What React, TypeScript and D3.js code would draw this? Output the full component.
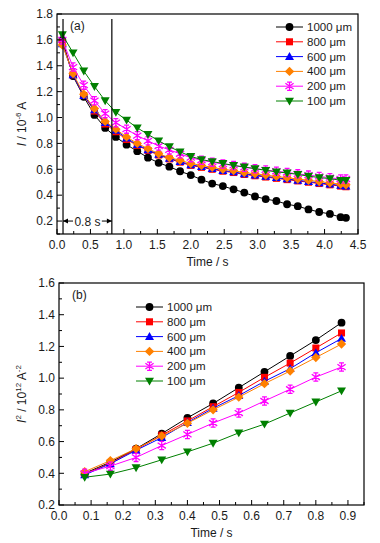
import React from "react";
import * as d3 from "d3";

// ---------- Data ----------
const seriesNames = ["1000 μm", "800 μm", "600 μm", "400 μm", "200 μm", "100 μm"];
const seriesColors = ["#000000", "#FF0000", "#0000FF", "#FF8000", "#FF00FF", "#008000"];
const seriesShapes = ["circle", "square", "triangle", "diamond", "asterisk", "triangleDown"];

const timeA = [0.08, 0.24, 0.40, 0.56, 0.72, 0.88, 1.04, 1.20, 1.36, 1.52, 1.68, 1.84, 2.00, 2.16,
  2.32, 2.48, 2.64, 2.80, 2.96, 3.12, 3.28, 3.44, 3.60, 3.76, 3.92, 4.08, 4.24, 4.32];
const currentA1000 = [1.60, 1.32, 1.16, 1.02, 0.92, 0.85, 0.79, 0.74, 0.69, 0.65, 0.62, 0.585, 0.555, 0.52,
  0.49, 0.47, 0.445, 0.42, 0.39, 0.37, 0.355, 0.33, 0.315, 0.29, 0.27, 0.255, 0.23, 0.225];
const currentA800 = [1.58, 1.33, 1.17, 1.05, 0.95, 0.89, 0.83, 0.785, 0.745, 0.71, 0.68, 0.655, 0.63, 0.615,
  0.60, 0.585, 0.575, 0.56, 0.55, 0.54, 0.53, 0.52, 0.51, 0.50, 0.49, 0.48, 0.47, 0.465];
const currentA600 = [1.57, 1.33, 1.17, 1.06, 0.96, 0.90, 0.84, 0.79, 0.75, 0.715, 0.685, 0.66, 0.635, 0.62,
  0.605, 0.59, 0.58, 0.565, 0.555, 0.545, 0.535, 0.525, 0.515, 0.505, 0.495, 0.485, 0.475, 0.47];
const currentA400 = [1.56, 1.34, 1.18, 1.07, 0.97, 0.91, 0.85, 0.80, 0.76, 0.72, 0.69, 0.67, 0.645, 0.63,
  0.615, 0.60, 0.59, 0.575, 0.565, 0.555, 0.545, 0.535, 0.525, 0.515, 0.505, 0.495, 0.485, 0.48];
const currentA200 = [1.60, 1.39, 1.25, 1.13, 1.03, 0.96, 0.91, 0.86, 0.82, 0.78, 0.75, 0.72, 0.69, 0.67,
  0.655, 0.64, 0.63, 0.615, 0.605, 0.595, 0.585, 0.575, 0.565, 0.555, 0.545, 0.535, 0.525, 0.525];
const currentA100 = [1.64, 1.50, 1.36, 1.24, 1.13, 1.04, 0.98, 0.92, 0.87, 0.82, 0.775, 0.735, 0.70, 0.675,
  0.66, 0.645, 0.63, 0.618, 0.605, 0.592, 0.58, 0.572, 0.56, 0.547, 0.536, 0.528, 0.515, 0.515];
const seriesA = [currentA1000, currentA800, currentA600, currentA400, currentA200, currentA100];

const timeB = [0.08, 0.16, 0.24, 0.32, 0.40, 0.48, 0.56, 0.64, 0.72, 0.80, 0.88];
const invB1000 = [0.40, 0.47, 0.555, 0.65, 0.75, 0.84, 0.94, 1.04, 1.14, 1.24, 1.35];
const invB800 = [0.395, 0.465, 0.55, 0.64, 0.73, 0.82, 0.91, 1.005, 1.095, 1.19, 1.285];
const invB600 = [0.39, 0.46, 0.545, 0.625, 0.72, 0.81, 0.89, 0.98, 1.06, 1.16, 1.25];
const invB400 = [0.41, 0.48, 0.555, 0.635, 0.715, 0.80, 0.88, 0.965, 1.045, 1.13, 1.215];
const invB200 = [0.40, 0.445, 0.50, 0.575, 0.645, 0.717, 0.78, 0.856, 0.93, 1.007, 1.07];
const invB100 = [0.375, 0.395, 0.435, 0.485, 0.535, 0.59, 0.655, 0.71, 0.78, 0.85, 0.92];
const seriesB = [invB1000, invB800, invB600, invB400, invB200, invB100];

const ticksAX = [0, 0.5, 1.0, 1.5, 2.0, 2.5, 3.0, 3.5, 4.0, 4.5];
const ticksAY = [0.2, 0.4, 0.6, 0.8, 1.0, 1.2, 1.4, 1.6, 1.8];
const ticksBX = [0, 0.1, 0.2, 0.3, 0.4, 0.5, 0.6, 0.7, 0.8, 0.9];
const ticksBY = [0.2, 0.4, 0.6, 0.8, 1.0, 1.2, 1.4, 1.6];
const markerLinesA = [0.09, 0.82];

const FONT = "'Liberation Sans', Arial, sans-serif";

function Marker({ shape, x, y, color, r = 3.9 }: any) {
  if (shape === "circle") return <circle cx={x} cy={y} r={r} fill={color} />;
  if (shape === "square") return <rect x={x - r * 0.9} y={y - r * 0.9} width={r * 1.8} height={r * 1.8} fill={color} />;
  if (shape === "triangle") {
    const s = r * 1.15;
    return <path d={`M${x},${y - s}L${x + s},${y + s * 0.75}L${x - s},${y + s * 0.75}Z`} fill={color} />;
  }
  if (shape === "triangleDown") {
    const s = r * 1.15;
    return <path d={`M${x},${y + s}L${x + s},${y - s * 0.75}L${x - s},${y - s * 0.75}Z`} fill={color} />;
  }
  if (shape === "diamond") {
    const s = r * 1.2;
    return <path d={`M${x},${y - s}L${x + s},${y}L${x},${y + s}L${x - s},${y}Z`} fill={color} />;
  }
  // asterisk
  const s = r * 1.05;
  return (
    <path
      d={`M${x},${y - s}L${x},${y + s}M${x - s},${y - s * 0.7}L${x + s},${y + s * 0.7}M${x - s},${y + s * 0.7}L${x + s},${y - s * 0.7}M${x - s * 0.6},${y - s}L${x + s * 0.6},${y - s}M${x - s * 0.6},${y + s}L${x + s * 0.6},${y + s}`}
      stroke={color}
      strokeWidth={1.3}
      fill="none"
    />
  );
}

function Panel({ left, top, right, bottom, xDomain, yDomain, xTicks, yTicks, xMinorStep, yMinorStep,
  xFmt, times, series, legendX, legendY, legendStep, panelLabel, yLabel, children }: any) {
  const x = d3.scaleLinear().domain(xDomain).range([left, right]);
  const y = d3.scaleLinear().domain(yDomain).range([bottom, top]);
  const line = d3.line<number>().x((_, i) => x(times[i])).y((d) => y(d));
  const xMinor = d3.range(xDomain[0], xDomain[1] + 1e-9, xMinorStep).filter((v) => !xTicks.some((t: number) => Math.abs(t - v) < 1e-6));
  const yMinor = d3.range(Math.ceil(yDomain[0] / yMinorStep) * yMinorStep, yDomain[1] + 1e-9, yMinorStep).filter((v) => !yTicks.some((t: number) => Math.abs(t - v) < 1e-6));
  return (
    <g fontFamily={FONT}>
      {series.map((vals: number[], si: number) => (
        <g key={si}>
          <path d={line(vals) || ""} fill="none" stroke={seriesColors[si]} strokeWidth={1} />
          {vals.map((v, i) => (
            <Marker key={i} shape={seriesShapes[si]} x={x(times[i])} y={y(v)} color={seriesColors[si]} />
          ))}
        </g>
      ))}
      {children && children(x, y)}
      <rect x={left} y={top} width={right - left} height={bottom - top} fill="none" stroke="#000" strokeWidth={1.2} />
      {xTicks.map((t: number) => (
        <g key={"xt" + t}>
          <line x1={x(t)} x2={x(t)} y1={bottom} y2={bottom - 5} stroke="#000" />
          <text x={x(t)} y={bottom + 15} fontSize={12} textAnchor="middle" fill="#1a1a1a">{xFmt(t)}</text>
        </g>
      ))}
      {xMinor.map((t: number) => (
        <line key={"xm" + t} x1={x(t)} x2={x(t)} y1={bottom} y2={bottom - 3} stroke="#000" />
      ))}
      {yTicks.map((t: number) => (
        <g key={"yt" + t}>
          <line x1={left} x2={left + 5} y1={y(t)} y2={y(t)} stroke="#000" />
          <text x={left - 4} y={y(t) + 4.3} fontSize={12} textAnchor="end" fill="#1a1a1a">{t.toFixed(1)}</text>
        </g>
      ))}
      {yMinor.map((t: number) => (
        <line key={"ym" + t} x1={left} x2={left + 3} y1={y(t)} y2={y(t)} stroke="#000" />
      ))}
      <text x={(left + right) / 2} y={bottom + 32} fontSize={12} textAnchor="middle" fill="#1a1a1a">Time / s</text>
      <text x={left + 13} y={top + 16} fontSize={12} fill="#1a1a1a">{panelLabel}</text>
      {yLabel}
      {seriesNames.map((n, i) => {
        const ly = legendY + i * legendStep;
        return (
          <g key={"lg" + i}>
            <line x1={legendX} x2={legendX + 27} y1={ly} y2={ly} stroke={seriesColors[i]} strokeWidth={1} />
            <Marker shape={seriesShapes[i]} x={legendX + 13.5} y={ly} color={seriesColors[i]} />
            <text x={legendX + 31} y={ly + 4} fontSize={11.5} fill="#1a1a1a">{n}</text>
          </g>
        );
      })}
    </g>
  );
}

export default function App() {
  const leftA = 57, rightA = 358, topA = 14, bottomA = 234;
  const leftB = 59, rightB = 364, topB = 283, bottomB = 505;
  return (
    <svg width={380} height={543} style={{ position: "absolute", left: 0, top: 0, background: "#fff" }}>
      <Panel
        left={leftA} right={rightA} top={topA} bottom={bottomA}
        xDomain={[0, 4.5]} yDomain={[0.1, 1.8]}
        xTicks={ticksAX} yTicks={ticksAY} xMinorStep={0.25} yMinorStep={0.1}
        xFmt={(t: number) => t.toFixed(1)}
        times={timeA} series={seriesA}
        legendX={276} legendY={27} legendStep={14.8}
        panelLabel="(a)"
        yLabel={
          <text transform={`translate(26,${(topA + bottomA) / 2}) rotate(-90)`} fontSize={12} textAnchor="middle" fill="#1a1a1a">
            <tspan fontStyle="italic">I</tspan>
            <tspan> / 10</tspan>
            <tspan fontSize={8} dy={-5}>-6</tspan>
            <tspan dy={5}> A</tspan>
          </text>
        }
      >
        {(x: any, y: any) => {
          const yTop = 19;
          const ya = y(0.2);
          const x1 = x(markerLinesA[0]);
          const x2 = x(markerLinesA[1]);
          return (
            <g>
              <line x1={x1} x2={x1} y1={yTop} y2={bottomA} stroke="#000" strokeWidth={1.2} />
              <line x1={x2} x2={x2} y1={yTop} y2={bottomA} stroke="#000" strokeWidth={1.2} />
              <line x1={x1} x2={x1 + 10} y1={ya} y2={ya} stroke="#000" />
              <path d={`M${x1},${ya}l5,-2.5l0,5Z`} fill="#000" />
              <line x1={x2 - 10} x2={x2} y1={ya} y2={ya} stroke="#000" />
              <path d={`M${x2},${ya}l-5,-2.5l0,5Z`} fill="#000" />
              <text x={(x1 + x2) / 2} y={ya + 4.5} fontSize={12} textAnchor="middle" fill="#1a1a1a">0.8 s</text>
            </g>
          );
        }}
      </Panel>
      <Panel
        left={leftB} right={rightB} top={topB} bottom={bottomB}
        xDomain={[0, 0.95]} yDomain={[0.2, 1.6]}
        xTicks={ticksBX} yTicks={ticksBY} xMinorStep={0.05} yMinorStep={0.1}
        xFmt={(t: number) => t.toFixed(1)}
        times={timeB} series={seriesB}
        legendX={136} legendY={307} legendStep={14.8}
        panelLabel="(b)"
        yLabel={
          <text transform={`translate(26,${(topB + bottomB) / 2}) rotate(-90)`} fontSize={12} textAnchor="middle" fill="#1a1a1a">
            <tspan fontStyle="italic">I</tspan>
            <tspan fontSize={8} dy={-5}>2</tspan>
            <tspan dy={5}> / 10</tspan>
            <tspan fontSize={8} dy={-5}>12</tspan>
            <tspan dy={5}> A</tspan>
            <tspan fontSize={8} dy={-5}>-2</tspan>
          </text>
        }
      />
    </svg>
  );
}
